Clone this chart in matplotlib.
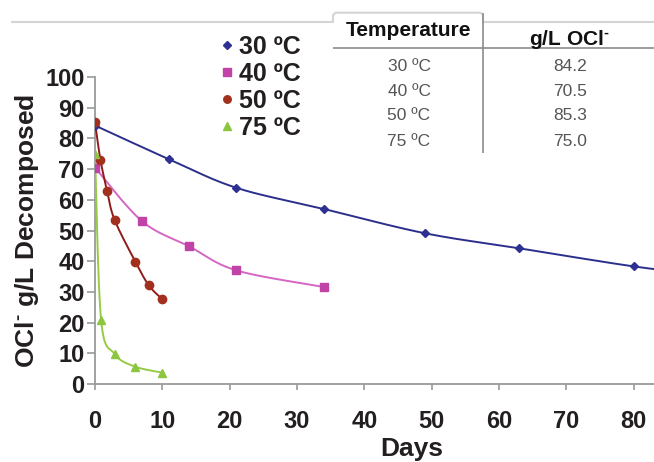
import numpy as np
import matplotlib
matplotlib.use("Agg")
import matplotlib.pyplot as plt
from matplotlib.lines import Line2D

plt.rcParams['font.family'] = ['Liberation Sans', 'DejaVu Sans']
plt.rcParams['mathtext.fontset'] = 'custom'
plt.rcParams['mathtext.rm'] = 'Liberation Sans:bold'
plt.rcParams['mathtext.it'] = 'Liberation Sans:bold'
plt.rcParams['mathtext.bf'] = 'Liberation Sans:bold'

# ---------------- data ----------------
days_30 = [0, 11, 21, 34, 49, 63, 80, 91]
vals_30 = [84.2, 73.2, 63.9, 57.0, 49.1, 44.2, 38.3, 35.5]
days_40 = [0, 7, 14, 21, 34]
vals_40 = [70.5, 53.0, 44.8, 37.0, 31.6]
days_50 = [0, 0.8, 1.8, 2.9, 6, 8, 10]
vals_50 = [85.3, 73.1, 62.9, 53.5, 39.8, 32.1, 27.6]
days_75 = [0, 0.9, 2.9, 5.9, 10]
vals_75 = [75.0, 21.0, 9.8, 5.7, 3.7]

series_labels = ['30 ºC', '40 ºC', '50 ºC', '75 ºC']
table_temps = ['30 ºC', '40 ºC', '50 ºC', '75 ºC']
table_conc = ['84.2', '70.5', '85.3', '75.0']

x_ticks = [0, 10, 20, 30, 40, 50, 60, 70, 80]
y_ticks = [0, 10, 20, 30, 40, 50, 60, 70, 80, 90, 100]

# ---------------- figure ----------------
W, H = 654, 462
fig = plt.figure(figsize=(W / 100, H / 100), dpi=100)

def fx(px):
    return px / W

def fy(py):
    return 1 - py / H

ax_left, ax_right, ax_top, ax_bot = 95.0, 654.0, 77.0, 384.0
ax = fig.add_axes([fx(ax_left), fy(ax_bot), fx(ax_right - ax_left), (ax_bot - ax_top) / H])
ax.set_xlim(0, 83)
ax.set_ylim(0, 100)

spine_col = '#9a9a9a'
for s in ['top', 'right']:
    ax.spines[s].set_visible(False)
for s in ['left', 'bottom']:
    ax.spines[s].set_color(spine_col)
    ax.spines[s].set_linewidth(1.3)
ax.spines['left'].set_zorder(0.5)

ax.set_xticks(x_ticks)
ax.set_yticks(y_ticks)
ax.tick_params(axis='x', direction='out', length=4.5, width=1.2, color=spine_col,
               pad=14, labelsize=17, labelcolor='#231f20')
ax.tick_params(axis='y', direction='out', length=6, width=1.2, color=spine_col,
               pad=1.5, labelsize=17, labelcolor='#231f20')
for lab in ax.get_xticklabels() + ax.get_yticklabels():
    lab.set_fontweight('bold')


def smooth_line(xs, ys, n=40):
    pts = ax.transData.transform(np.column_stack([xs, ys]))
    ext = np.vstack([pts[0], pts, pts[-1]])
    out = []
    for i in range(1, len(ext) - 2):
        p0, p1, p2, p3 = ext[i - 1], ext[i], ext[i + 1], ext[i + 2]
        c1 = p1 + (p2 - p0) / 6.0
        c2 = p2 - (p3 - p1) / 6.0
        t = np.linspace(0, 1, n)[:, None]
        seg = ((1 - t) ** 3) * p1 + 3 * ((1 - t) ** 2) * t * c1 + 3 * (1 - t) * t ** 2 * c2 + t ** 3 * p2
        out.append(seg)
    out = np.vstack(out)
    d = ax.transData.inverted().transform(out)
    return d[:, 0], d[:, 1]


specs = [
    (days_30, vals_30, '#2b2f8c', '#2e3192', 'D', 4.5),
    (days_40, vals_40, '#d466c4', '#c243a8', 's', 6.0),
    (days_50, vals_50, '#8e1c1a', '#a3301e', 'o', 6.0),
    (days_75, vals_75, '#96cc45', '#8cc63f', '^', 6.0),
]

handles = []
for (xs, ys, lc, mc, mk, ms), lab in zip(specs, series_labels):
    sx, sy = smooth_line(xs, ys)
    ax.plot(sx, sy, color=lc, lw=1.4, zorder=2)
    h, = ax.plot(xs, ys, linestyle='none', marker=mk, markersize=ms,
                 color=mc, markeredgecolor=mc, zorder=3, label=lab)
    handles.append(h)

leg = ax.legend(handles=handles, loc='upper left',
                bbox_to_anchor=(fx(220.5), fy(35)), bbox_transform=fig.transFigure,
                frameon=False, borderpad=0, borderaxespad=0, handlelength=0.5,
                handletextpad=0.25, labelspacing=0.12, markerscale=0.9,
                prop={'size': 18, 'weight': 'bold'})
for t in leg.get_texts():
    t.set_color('#231f20')

# axis labels
fig.text(fx(27), fy(230.5), r'OCl$^{\text{-}}$ g/L Decomposed', rotation=90, ha='center', va='center',
         fontsize=19, fontweight='bold', color='#231f20')
fig.text(fx(412), fy(456), 'Days', ha='center', va='baseline',
         fontsize=19, fontweight='bold', color='#231f20')

# ---------------- table / header decoration ----------------
def fline(xs, ys, color, lw):
    fig.add_artist(Line2D([fx(x) for x in xs], [fy(y) for y in ys],
                          transform=fig.transFigure, color=color, lw=lw,
                          solid_capstyle='butt'))

fline([11, 333, 333, 335.5, 480.5, 483, 483, 654],
      [22, 22, 15, 12.7, 12.7, 15, 22, 22], '#d4d4d4', 1.5)
fline([483, 483], [12.7, 153], '#8c8c8c', 1.2)
fline([333, 654], [48, 48], '#8c8c8c', 1.2)

fig.text(fx(408), fy(36.5), 'Temperature', ha='center', va='baseline',
         fontsize=15, fontweight='bold', color='#111111')
fig.text(fx(569), fy(45), r'g/L OCl$^{\text{-}}$', ha='center', va='baseline',
         fontsize=15, fontweight='bold', color='#111111')

row_base = [70.7, 95.5, 120.5, 145.5]
for t, c, yb in zip(table_temps, table_conc, row_base):
    fig.text(fx(409), fy(yb), t, ha='center', va='baseline', fontsize=12.5, color='#555555')
    fig.text(fx(570), fy(yb), c, ha='center', va='baseline', fontsize=12.5, color='#555555')

fig.savefig('out.png', dpi=100)
